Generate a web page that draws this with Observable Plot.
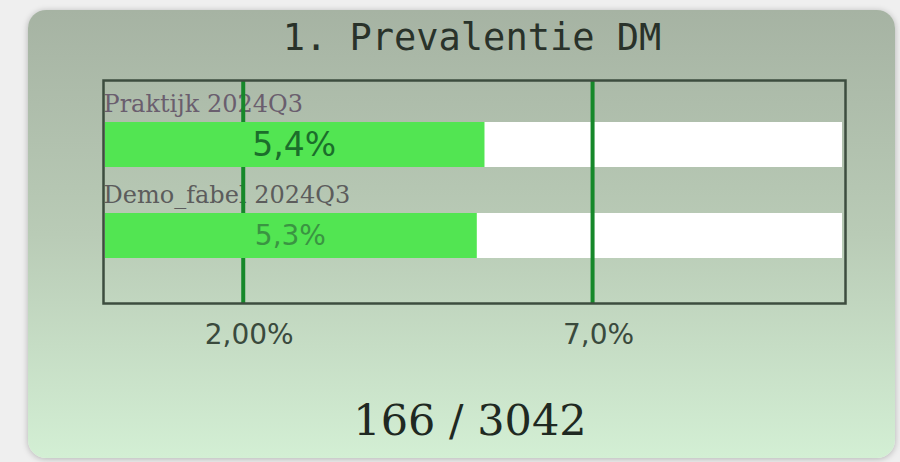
<!DOCTYPE html>
<html>
<head>
<meta charset="utf-8">
<script src="https://cdn.jsdelivr.net/npm/d3@7"></script>
<script src="https://cdn.jsdelivr.net/npm/@observablehq/plot@0.6"></script>
<style>
  html, body { margin: 0; padding: 0; background: #efefef; width: 900px; height: 462px; overflow: hidden; }
  #card {
    position: absolute; left: 28px; top: 10px; width: 867px; height: 448px;
    border-radius: 18px;
    background: linear-gradient(180deg, #a6b3a3 0%, #b9cbb6 50%, #d3efd4 100%);
    box-shadow: 0 1px 6px rgba(0,0,0,0.25);
  }
  #title {
    position: absolute; left: 272px; width: 400px; top: 19px; text-align: center;
    font-family: "DejaVu Sans Mono", monospace; font-size: 37px; line-height: 37px;
    color: #29322a; white-space: nowrap;
  }
  #chart { position: absolute; left: 0; top: 60px; }
  #caption {
    position: absolute; left: 270px; width: 400px; top: 399px; text-align: center;
    font-family: "DejaVu Serif", serif; font-size: 43px; line-height: 43px;
    color: #1f2922; white-space: nowrap;
  }
</style>
</head>
<body>
<div id="card"></div>
<div id="title"></div>
<div id="chart"></div>
<div id="caption"></div>
<script>
const titleText = "1. Prevalentie DM";
const rows = ["Praktijk 2024Q3", "Demo_fabel 2024Q3"];
const values = [5.46, 5.35];
const valueLabels = ["5,4%", "5,3%"];
const refValues = [2, 7];
const refLabels = ["2,00%", "7,0%"];
const xMax = 10.62;
const countText = "166 / 3042";

const data = rows.map((r, i) => ({row: r, value: values[i], label: valueLabels[i]}));
const refs = refValues.map((v, i) => ({value: v, label: refLabels[i]}));

const rowStyles = [
  {labelFill: "#6a5e6e", valueFill: "#1b6e2b", valueSize: 33},
  {labelFill: "#5c5c5c", valueFill: "#3a9442", valueSize: 28}
];

document.getElementById("title").textContent = titleText;
document.getElementById("caption").textContent = countText;

const labelMarks = [];
data.forEach((d, i) => {
  const s = rowStyles[i];
  labelMarks.push(Plot.text([d], {
    y: "row", x: 0, text: "row", textAnchor: "start", lineAnchor: "bottom", dy: -33.5,
    fontFamily: "DejaVu Serif", fontSize: 24, fill: s.labelFill
  }));
});
const valueMarks = [];
data.forEach((d, i) => {
  const s = rowStyles[i];
  valueMarks.push(Plot.text([d], {
    y: "row", x: (e) => e.value / 2, text: "label", textAnchor: "middle", lineAnchor: "middle",
    fontFamily: "DejaVu Sans", fontSize: s.valueSize, fill: s.valueFill
  }));
});

const chart = Plot.plot({
  width: 900, height: 300,
  marginLeft: 103, marginRight: 55, marginTop: 20, marginBottom: 57,
  x: {domain: [0, xMax], axis: null},
  y: {domain: rows, axis: null, paddingInner: 0.5055, paddingOuter: 0.478, align: 0.483},
  style: {background: "transparent", overflow: "visible"},
  marks: [
    Plot.barX(data, {y: "row", x1: 0, x2: xMax, fill: "white", insetLeft: 2, insetRight: 3}),
    ...labelMarks,
    Plot.ruleX(refs, {x: "value", stroke: "#16882a", strokeWidth: 4}),
    Plot.barX(data, {y: "row", x1: 0, x2: "value", fill: "#52e552", insetLeft: 2}),
    ...valueMarks,
    Plot.text(refs, {
      x: "value", text: "label", frameAnchor: "bottom", lineAnchor: "bottom", dy: 40, dx: 6,
      fontFamily: "DejaVu Sans", fontSize: 28, fill: "#3a4a3d"
    }),
    Plot.frame({stroke: "#3d4d3f", strokeWidth: 2.5})
  ]
});
document.getElementById("chart").appendChild(chart);
</script>
</body>
</html>
